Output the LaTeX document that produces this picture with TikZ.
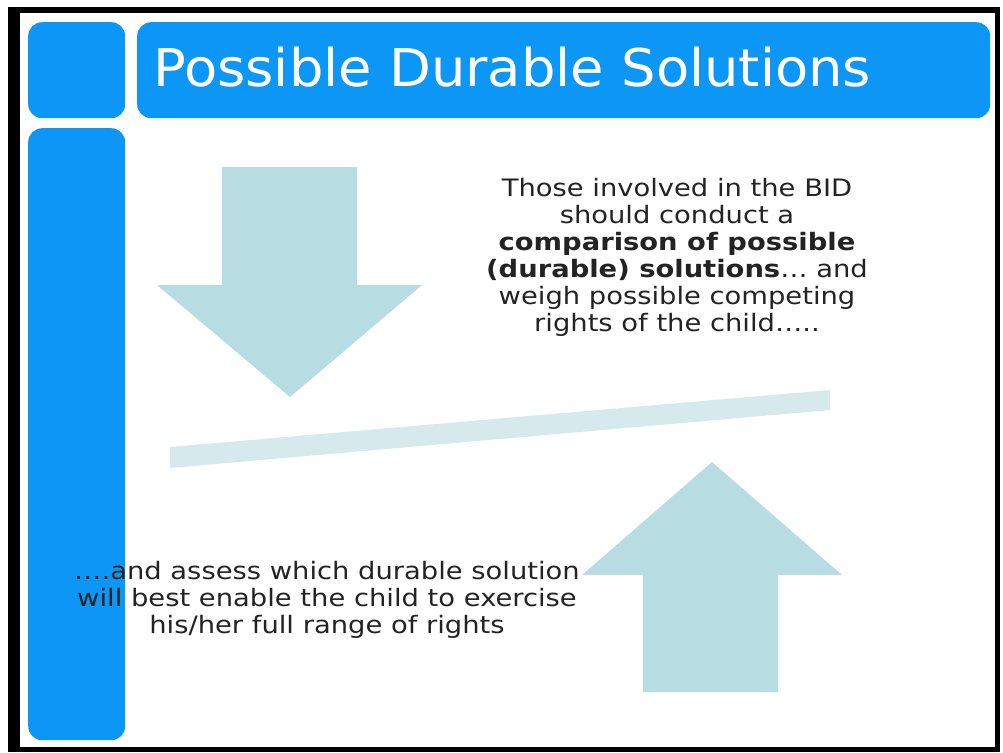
\documentclass[tikz,border=0pt]{standalone}
\usepackage{fontspec}
\setmainfont{DejaVu Sans}
\newfontfamily\widesans[FakeStretch=1.14]{DejaVu Sans}
\newfontfamily\titlesans[FakeStretch=1.045]{DejaVu Sans}
\usetikzlibrary{positioning}

\definecolor{slideblue}{RGB}{12,150,245}
\definecolor{arrowteal}{RGB}{183,220,226}
\definecolor{barteal}{RGB}{214,234,238}
\definecolor{textgray}{RGB}{35,35,35}

\begin{document}
\begin{tikzpicture}[
        x=1pt, y=-1pt,
        panel/.style={rectangle, fill=slideblue, rounded corners=14pt, inner sep=0pt},
        bodytext/.style={align=center, text=textgray, font=\widesans\fontsize{24}{27}\selectfont, inner sep=0pt}
    ]
        \useasboundingbox (0,0) rectangle (1003,752);
        % Frame
        \fill[black] (8,7) rectangle (1000,752);
        \fill[white] (20,13) rectangle (995,747);

        % Panels
        \node[panel, minimum width=97pt, minimum height=96pt, anchor=north west] (corner) at (28,22) {};
        \node[panel, minimum width=853pt, minimum height=96pt, anchor=north west] (title) at (137,22) {};
        \node[panel, minimum width=97pt, minimum height=612pt, anchor=north west] (sidebar) at (28,128) {};
        \node[anchor=base west, text=white, font=\titlesans\fontsize{52}{60}\selectfont, inner sep=0pt] (heading) at (153,86) {Possible Durable Solutions};

        % Arrows and bar
        \fill[arrowteal] (222,167) -- (357,167) -- (357,285) -- (422,285) -- (290,397) -- (157,285) -- (222,285) -- cycle;
        \fill[arrowteal] (643,692) -- (778,692) -- (778,575) -- (842,575) -- (712,462) -- (582,575) -- (643,575) -- cycle;
        \fill[barteal] (170,447) -- (830,390) -- (830,410) -- (170,468) -- cycle;

        % Texts
        \node[bodytext] (compare) at (677,257) {Those involved in the BID\\should conduct a\\\textbf{comparison of possible}\\\textbf{(durable) solutions}\dots{} and\\weigh possible competing\\rights of the child\dots..};
        \node[bodytext] (assess) at (327,600) {\dots.and assess which durable solution\\will best enable the child to exercise\\his/her full range of rights};
    \end{tikzpicture}
\end{document}
